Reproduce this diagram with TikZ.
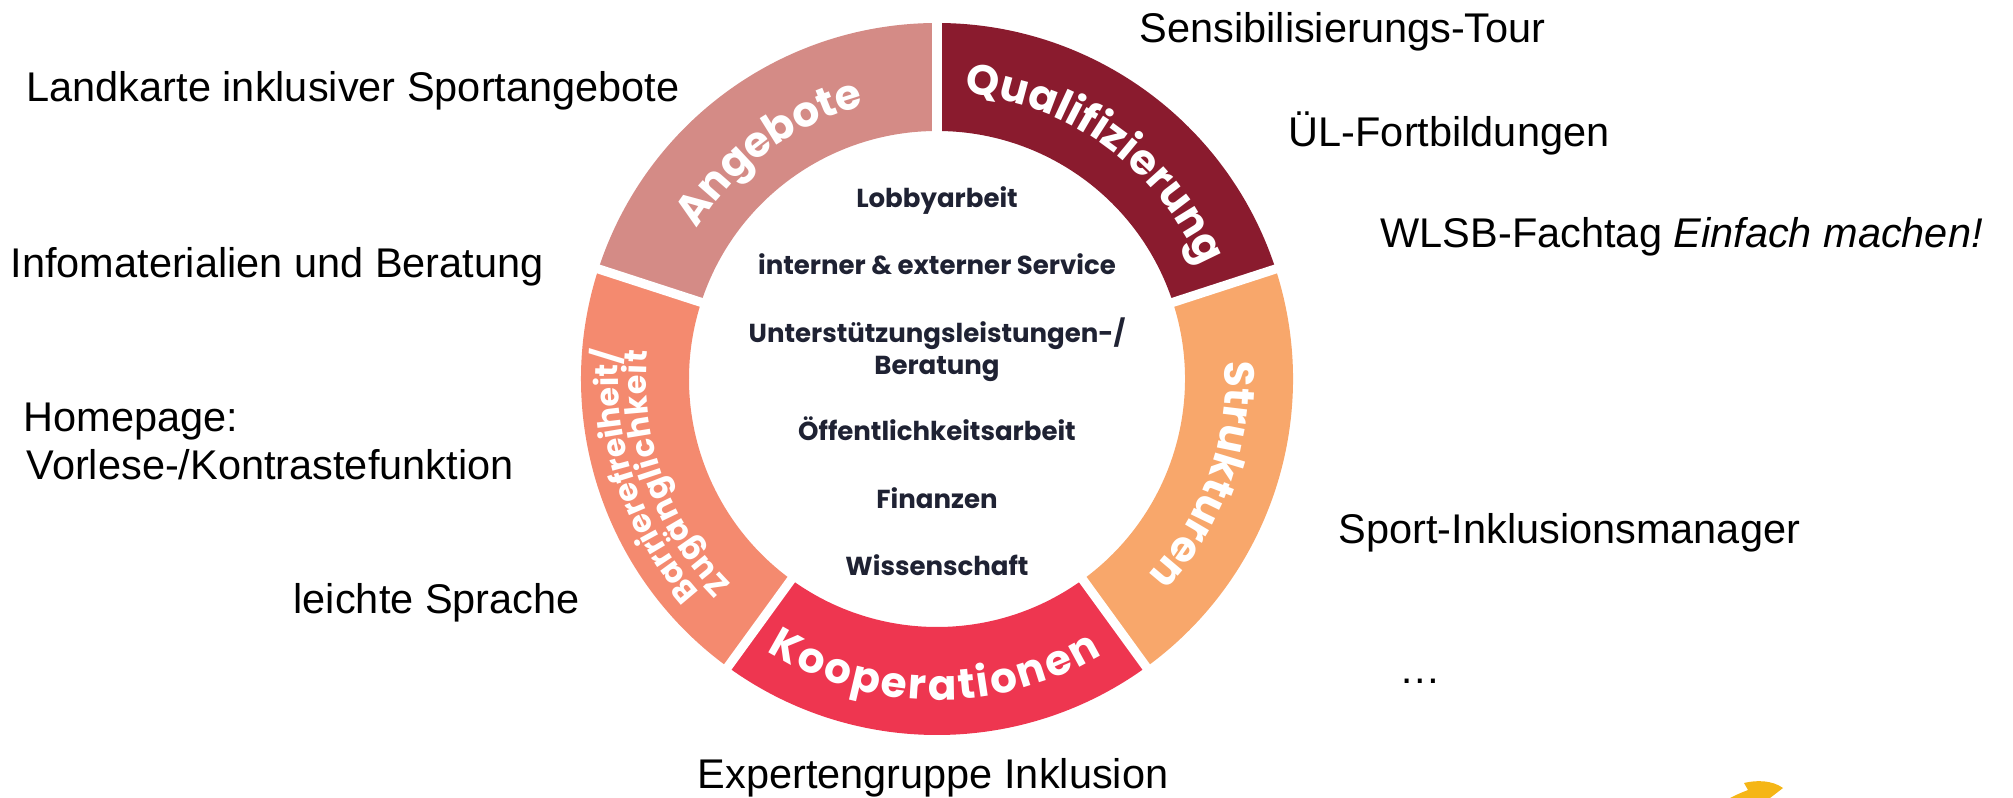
\documentclass[tikz,border=0pt]{standalone}
\usepackage{fontspec}
\setmainfont{Liberation Sans}
\newfontfamily\ringfont{Poppins}
\usetikzlibrary{calc,decorations.text}

\definecolor{qualcol}{HTML}{8A1B2E}
\definecolor{angcol}{HTML}{D48B86}
\definecolor{barrcol}{HTML}{F48A6F}
\definecolor{koopcol}{HTML}{EE3650}
\definecolor{strukcol}{HTML}{F8A76B}
\definecolor{innertext}{HTML}{1F2233}
\definecolor{swoosh}{HTML}{F5B616}

\newcommand{\seglab}{\ringfont\bfseries\fontsize{12}{14}\selectfont}
\newcommand{\seglabsmall}{\ringfont\bfseries\fontsize{9}{11}\selectfont}

\begin{document}
\begin{tikzpicture}[x=0.01cm, y=0.01cm,
  outer/.style={font=\fontsize{11.8}{13.6}\selectfont, anchor=base west},
  inner/.style={font=\ringfont\bfseries\fontsize{7.4}{9}\selectfont, text=innertext, anchor=base},
  gapline/.style={white, line width=2.6pt},
  seglabel/.style={decorate, decoration={text along path, text align={fit to path}, text color=white, text={#1}}}]
\tikzstyle{every node}+=[inner sep=0pt]
\useasboundingbox (0,0) rectangle (2013,-798);
\coordinate (hub) at (937,-379);
% ring segments
\fill [qualcol] (hub) ++(18:356) arc (18:90:356) -- ++(270:108) arc (90:18:248) -- cycle;
\fill [angcol] (hub) ++(90:356) arc (90:162:356) -- ++(342:108) arc (162:90:248) -- cycle;
\fill [barrcol] (hub) ++(162:356) arc (162:234:356) -- ++(54:108) arc (234:162:248) -- cycle;
\fill [koopcol] (hub) ++(234:356) arc (234:306:356) -- ++(126:108) arc (306:234:248) -- cycle;
\fill [strukcol] (hub) ++(306:356) arc (306:378:356) -- ++(198:108) arc (378:306:248) -- cycle;
\foreach \a in {18,90,162,234,306}
  \draw [gapline] ($(hub)+(\a:240)$) -- ($(hub)+(\a:365)$);
% segment labels
\path [seglabel={|\seglab|Qualifizierung}] ($(hub)+(84.5:287)$) arc (84.5:23:287);
\path [seglabel={|\seglab|Angebote}] ($(hub)+(148:283)$) arc (148:105.5:283);
\path [seglabel={|\seglabsmall|Barrierefreiheit/}] ($(hub)+(222:319)$) arc (222:175:319);
\path [seglabel={|\seglabsmall|Zugänglichkeit}] ($(hub)+(225:291)$) arc (225:174.5:291);
\path [seglabel={|\seglab|Kooperationen}] ($(hub)+(238:321)$) arc (238:301:321);
\path [seglabel={|\seglab|Strukturen}] ($(hub)+(363.5:288)$) arc (363.5:318.5:288);
% inner list
\node [inner] (lobby) at (937,-208) {Lobbyarbeit};
\node [inner] (service) at (937,-275) {interner \& externer Service};
\node [inner] (unterst) at (937,-343) {Unterstützungsleistungen-/};
\node [inner] (beratung) at (937,-375) {Beratung};
\node [inner] (oeffentl) at (937,-441) {Öffentlichkeitsarbeit};
\node [inner] (finanzen) at (937,-509) {Finanzen};
\node [inner] (wissen) at (937,-576) {Wissenschaft};
% outer texts
\node [outer] (tour) at (1139,-43) {Sensibilisierungs-Tour};
\node [outer] (landkarte) at (26,-102) {Landkarte inklusiver Sportangebote};
\node [outer] (fortbildung) at (1288,-147) {ÜL-Fortbildungen};
\node [outer] (fachtag) at (1380,-248) {WLSB-Fachtag \textit{Einfach machen!}};
\node [outer] (infomat) at (10,-278) {Infomaterialien und Beratung};
\node [outer] (homepage) at (23,-432) {Homepage:};
\node [outer] (vorlese) at (26,-480) {Vorlese-/Kontrastefunktion};
\node [outer] (sprache) at (293,-614) {leichte Sprache};
\node [outer] (manager) at (1338,-544) {Sport-Inklusionsmanager};
\node [outer] (weitere) at (1399,-684) {…};
\node [outer] (experten) at (697,-788) {Expertengruppe Inklusion};
% corner swoosh
\fill [swoosh] (1744,-783) .. controls (1756,-780) and (1772,-780) .. (1783,-788) -- (1770,-798) -- (1730,-798) .. controls (1738,-794) .. (1748,-790) -- cycle;
\end{tikzpicture}
\end{document}
